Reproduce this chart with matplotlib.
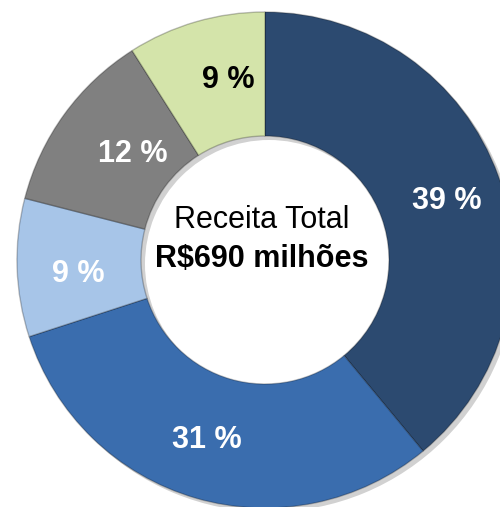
import matplotlib
matplotlib.use("Agg")
import matplotlib.pyplot as plt
import numpy as np
from matplotlib.patches import Wedge

plt.rcParams['font.family'] = ['Liberation Sans', 'DejaVu Sans']

# Data
shares = [39, 31, 9, 12, 9]
labels = ["39 %", "31 %", "9 %", "12 %", "9 %"]
colors = ["#2C4A70", "#3A6DAE", "#A7C5E8", "#808080", "#D4E4AA"]
label_colors = ["white", "white", "white", "white", "black"]
center_line1 = "Receita Total"
center_line2 = "R$690 milhões"

W, H = 500, 507
R_px = 248
cx, cy = 265, 260  # pixel coords from top-left

fig = plt.figure(figsize=(W / 100, H / 100), dpi=100)
ax = fig.add_axes([0, 0, 1, 1])

# soft shadow
sh = 4 / R_px
ax.add_patch(Wedge((sh, -sh), 1.0, 0, 360, width=0.5, facecolor="#000000",
                   alpha=0.18, linewidth=0, zorder=0))

wedges, _ = ax.pie(shares, colors=colors, startangle=90, counterclock=False,
                   radius=1.0, center=(0, 0),
                   wedgeprops=dict(width=0.5, edgecolor=(0, 0, 0, 0.25), linewidth=1.0))
for w in wedges:
    w.set_zorder(1)

ax.set_xlim(-cx / R_px, (W - cx) / R_px)
ax.set_ylim(-(H - cy) / R_px, cy / R_px)
ax.set_aspect('equal')
ax.axis('off')

half_cap = 11 / R_px
rdist = [0.775, 0.751, 0.755, 0.69, 0.753]
aoff = [-1.0, -1.9, 1.6, -3.5, -4.8]
for w, lab, lc, rd, ao in zip(wedges, labels, label_colors, rdist, aoff):
    ang = np.deg2rad((w.theta1 + w.theta2) / 2 + ao)
    ax.text(rd * np.cos(ang), rd * np.sin(ang) - half_cap, lab, ha='center',
            va='baseline', fontsize=22, fontweight='bold', color=lc, zorder=3)

ax.text(-3 / R_px, (cy - 228) / R_px, center_line1, ha='center', va='baseline',
        fontsize=22, color='black', zorder=3)
ax.text(-3 / R_px, (cy - 267) / R_px, center_line2, ha='center', va='baseline',
        fontsize=22, fontweight='bold', color='black', zorder=3)

fig.savefig("out.png", dpi=100)
